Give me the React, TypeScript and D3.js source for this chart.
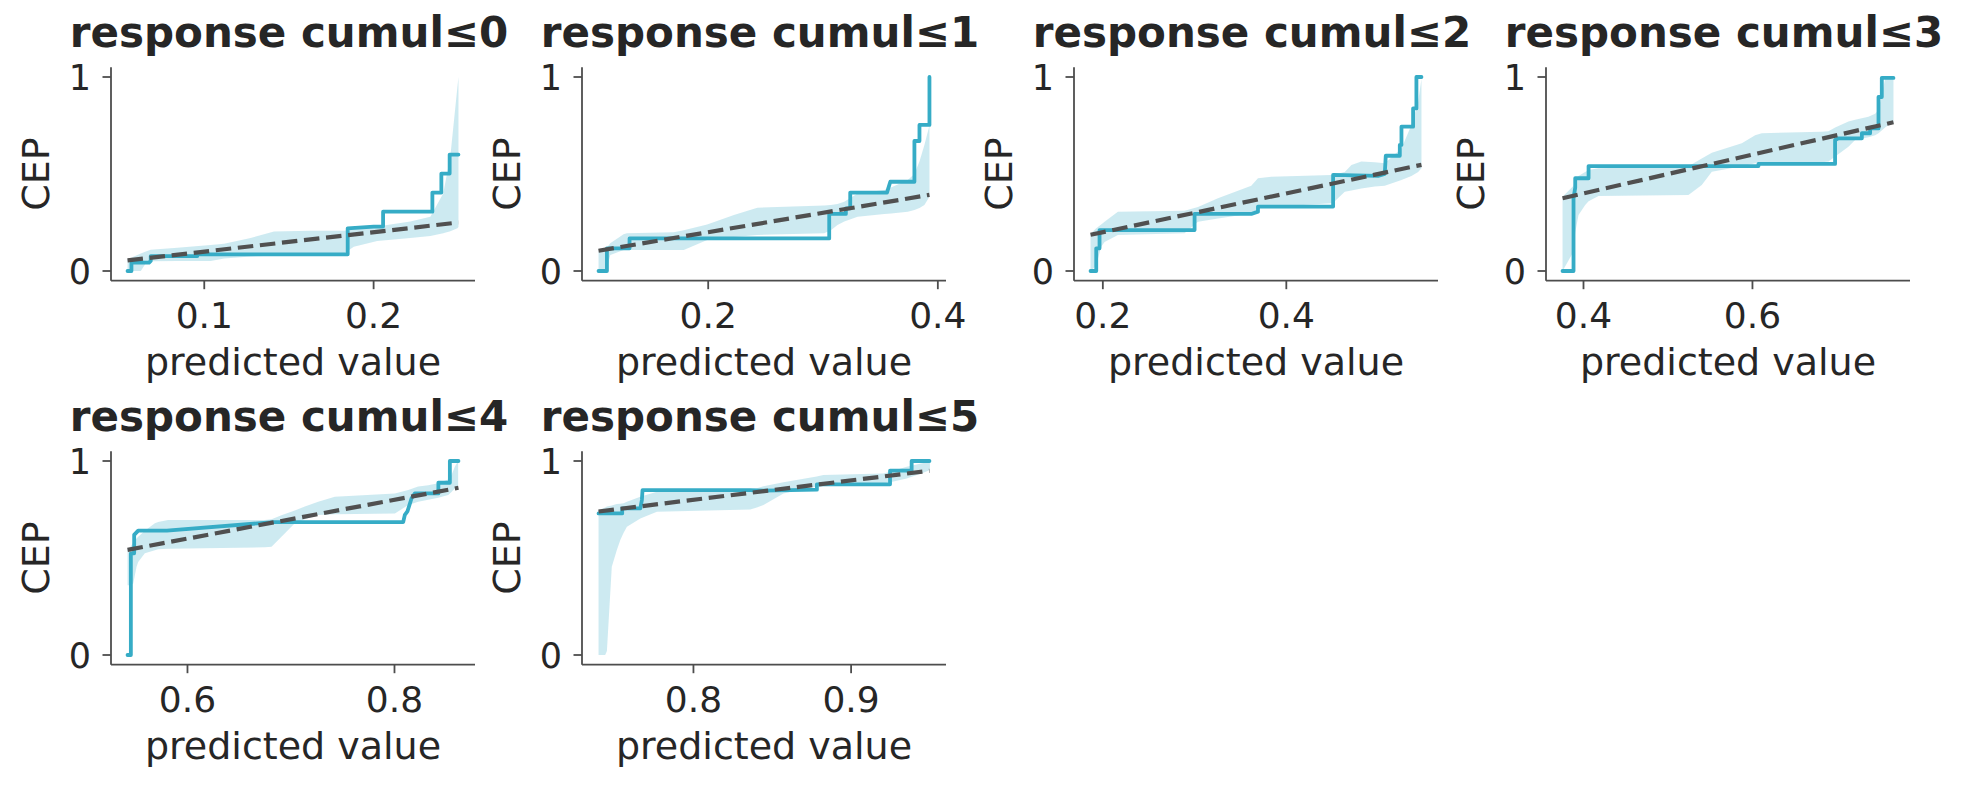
import * as d3 from "d3"

// panel titles and tick values
const titles = [
  "response cumul≤0",
  "response cumul≤1",
  "response cumul≤2",
  "response cumul≤3",
  "response cumul≤4",
  "response cumul≤5",
]
const xTicks = [
  [0.1, 0.2],
  [0.2, 0.4],
  [0.2, 0.4],
  [0.4, 0.6],
  [0.6, 0.8],
  [0.8, 0.9],
]
const yTicks = [0, 1]

// PAV-adjusted CEP lines (predicted value, CEP)
const cep0X = [0.0547, 0.057, 0.057, 0.0674, 0.0684, 0.0684, 0.0959, 0.0959, 0.1847, 0.1847, 0.2001, 0.2056, 0.2056, 0.2347, 0.2347, 0.24, 0.24, 0.2449, 0.2449, 0.2501]
const cep0Y = [0, 0, 0.043, 0.043, 0.052, 0.077, 0.077, 0.086, 0.086, 0.22, 0.229, 0.229, 0.306, 0.306, 0.404, 0.404, 0.502, 0.502, 0.6, 0.6]

const cep1X = [0.1045, 0.1118, 0.1118, 0.1315, 0.1315, 0.3054, 0.3054, 0.3199, 0.3199, 0.3237, 0.3237, 0.3557, 0.3586, 0.3796, 0.3796, 0.384, 0.384, 0.3927, 0.3927]
const cep1Y = [0, 0, 0.117, 0.117, 0.168, 0.168, 0.294, 0.294, 0.323, 0.323, 0.404, 0.404, 0.46, 0.46, 0.67, 0.67, 0.753, 0.753, 1.0]

const cep2X = [0.1866, 0.1928, 0.1928, 0.1964, 0.1964, 0.3, 0.3, 0.3618, 0.3691, 0.3691, 0.451, 0.451, 0.5, 0.5073, 0.5084, 0.5237, 0.5237, 0.5255, 0.5255, 0.5382, 0.5382, 0.5418, 0.5418, 0.5473]
const cep2Y = [0, 0, 0.117, 0.117, 0.211, 0.211, 0.294, 0.294, 0.306, 0.332, 0.332, 0.495, 0.49, 0.5, 0.594, 0.594, 0.65, 0.65, 0.744, 0.744, 0.838, 0.838, 1.0, 1.0]

const cep3X = [0.3752, 0.3882, 0.3882, 0.3902, 0.3902, 0.406, 0.406, 0.6071, 0.6071, 0.6978, 0.6978, 0.7018, 0.7295, 0.7295, 0.7393, 0.7393, 0.7492, 0.7492, 0.7531, 0.7531, 0.7669]
const cep3Y = [0, 0, 0.375, 0.43, 0.478, 0.478, 0.541, 0.541, 0.552, 0.552, 0.675, 0.684, 0.684, 0.71, 0.71, 0.735, 0.735, 0.897, 0.897, 0.995, 0.995]

const cep4X = [0.5421, 0.5453, 0.5453, 0.5485, 0.5485, 0.5524, 0.5801, 0.6831, 0.8084, 0.81, 0.8125, 0.8165, 0.8197, 0.8424, 0.8424, 0.8535, 0.8535, 0.8618]
const cep4Y = [0, 0, 0.524, 0.524, 0.619, 0.641, 0.641, 0.685, 0.685, 0.722, 0.74, 0.808, 0.833, 0.833, 0.888, 0.888, 1.0, 1.0]

const cep5X = [0.7398, 0.7548, 0.7548, 0.7663, 0.7673, 0.7677, 0.836, 0.8444, 0.8783, 0.8783, 0.9247, 0.9247, 0.9384, 0.9384, 0.9497]
const cep5Y = [0.73, 0.73, 0.756, 0.756, 0.799, 0.85, 0.85, 0.847, 0.852, 0.88, 0.88, 0.95, 0.95, 1.0, 1.0]

// credible bands around the CEP
const band0X = [0.0547, 0.0625, 0.0655, 0.0684, 0.0841, 0.1038, 0.1117, 0.1274, 0.1412, 0.1628, 0.1825, 0.1883, 0.2021, 0.2217, 0.2335, 0.2411, 0.2453, 0.2495, 0.2501]
const band0Lo = [0, 0, 0.04, 0.05, 0.052, 0.052, 0.065, 0.075, 0.078, 0.08, 0.09, 0.125, 0.155, 0.17, 0.18, 0.195, 0.205, 0.22, 0.227]
const band0Hi = [0.06, 0.09, 0.1, 0.11, 0.12, 0.134, 0.14, 0.17, 0.203, 0.208, 0.208, 0.215, 0.23, 0.255, 0.28, 0.4, 0.59, 0.95, 1.0]

const band1X = [0.1045, 0.1118, 0.1147, 0.1263, 0.1292, 0.17, 0.1787, 0.1991, 0.2224, 0.2428, 0.301, 0.3068, 0.3126, 0.3185, 0.3301, 0.3534, 0.3592, 0.3738, 0.3796, 0.384, 0.3883, 0.3927]
const band1Lo = [0, 0.014, 0.082, 0.108, 0.108, 0.108, 0.108, 0.16, 0.175, 0.186, 0.194, 0.21, 0.237, 0.255, 0.28, 0.294, 0.297, 0.305, 0.314, 0.325, 0.34, 0.383]
const band1Hi = [0.1, 0.12, 0.143, 0.19, 0.194, 0.2, 0.21, 0.24, 0.289, 0.326, 0.338, 0.34, 0.345, 0.357, 0.4, 0.418, 0.43, 0.469, 0.5, 0.564, 0.65, 0.75]

const band2X = [0.1866, 0.1873, 0.1928, 0.1982, 0.2019, 0.2164, 0.2891, 0.3037, 0.3255, 0.3618, 0.3691, 0.3837, 0.4491, 0.4528, 0.4637, 0.471, 0.4818, 0.4964, 0.5073, 0.5255, 0.5364, 0.5437, 0.5473]
const band2Lo = [0, 0, 0.03, 0.125, 0.15, 0.186, 0.194, 0.254, 0.27, 0.297, 0.323, 0.33, 0.349, 0.36, 0.409, 0.415, 0.425, 0.435, 0.44, 0.469, 0.49, 0.51, 0.529]
const band2Hi = [0.19, 0.194, 0.22, 0.24, 0.254, 0.306, 0.311, 0.33, 0.375, 0.44, 0.478, 0.486, 0.495, 0.497, 0.51, 0.546, 0.564, 0.56, 0.555, 0.632, 0.753, 0.873, 0.99]

const band3X = [0.3752, 0.3882, 0.3902, 0.3941, 0.402, 0.406, 0.4178, 0.5242, 0.54, 0.5519, 0.5874, 0.6032, 0.6111, 0.6821, 0.69, 0.6979, 0.7136, 0.7215, 0.7373, 0.7452, 0.7492, 0.757, 0.761, 0.7669]
const band3Lo = [0, 0.1, 0.2, 0.289, 0.34, 0.36, 0.387, 0.392, 0.443, 0.512, 0.54, 0.555, 0.556, 0.56, 0.565, 0.59, 0.64, 0.675, 0.69, 0.7, 0.71, 0.74, 0.753, 0.76]
const band3Hi = [0.383, 0.44, 0.469, 0.49, 0.51, 0.521, 0.53, 0.54, 0.58, 0.61, 0.658, 0.7, 0.71, 0.718, 0.72, 0.74, 0.77, 0.78, 0.795, 0.81, 0.83, 0.99, 0.995, 1.0]

const band4X = [0.5421, 0.5453, 0.5476, 0.5508, 0.5524, 0.5588, 0.5685, 0.5717, 0.5813, 0.6747, 0.6812, 0.6908, 0.7037, 0.7134, 0.7263, 0.7424, 0.8004, 0.8133, 0.8229, 0.8326, 0.8423, 0.8519, 0.8551, 0.8583, 0.8615]
const band4Lo = [0.36, 0.36, 0.369, 0.455, 0.48, 0.524, 0.54, 0.545, 0.548, 0.555, 0.558, 0.61, 0.679, 0.7, 0.722, 0.725, 0.73, 0.773, 0.79, 0.8, 0.81, 0.825, 0.84, 0.86, 0.87]
const band4Hi = [0.541, 0.56, 0.58, 0.6, 0.61, 0.64, 0.679, 0.685, 0.696, 0.696, 0.7, 0.72, 0.745, 0.765, 0.79, 0.816, 0.833, 0.85, 0.868, 0.875, 0.885, 0.905, 0.928, 0.97, 1.0]

const band5X = [0.7398, 0.744, 0.7451, 0.7482, 0.7514, 0.7536, 0.7557, 0.7578, 0.7663, 0.7768, 0.836, 0.8402, 0.8444, 0.8571, 0.8782, 0.8824, 0.9205, 0.9247, 0.9353, 0.9458, 0.95]
const band5Lo = [0, 0, 0.02, 0.455, 0.541, 0.593, 0.63, 0.661, 0.704, 0.739, 0.75, 0.76, 0.773, 0.833, 0.868, 0.87, 0.885, 0.89, 0.91, 0.94, 0.953]
const band5Hi = [0.747, 0.76, 0.765, 0.77, 0.778, 0.78, 0.782, 0.79, 0.816, 0.842, 0.855, 0.859, 0.87, 0.89, 0.92, 0.928, 0.936, 0.945, 0.97, 0.99, 1.0]

const cepX = [cep0X, cep1X, cep2X, cep3X, cep4X, cep5X]
const cepY = [cep0Y, cep1Y, cep2Y, cep3Y, cep4Y, cep5Y]
const bandX = [band0X, band1X, band2X, band3X, band4X, band5X]
const bandLo = [band0Lo, band1Lo, band2Lo, band3Lo, band4Lo, band5Lo]
const bandHi = [band0Hi, band1Hi, band2Hi, band3Hi, band4Hi, band5Hi]

// layout
const W = 1972
const H = 790
const plotW = 364
const plotH = 213.4
const lefts = [111, 582, 1074, 1546, 111, 582]
const tops = [67.3, 67.3, 67.3, 67.3, 451.3, 451.3]

const font = "DejaVu Sans"
const textColor = "#262626"
const spineColor = "#4d4d4d"
const lineColor = "#36acc6"
const refColor = "#505050"

const Panel = ({ i }: { i: number }) => {
  const left = lefts[i]
  const top = tops[i]
  const xs = cepX[i]
  const [x0, x1] = d3.extent(xs) as [number, number]
  const pad = (x1 - x0) * 0.05

  const x = d3.scaleLinear().domain([x0 - pad, x1 + pad]).range([left, left + plotW])
  const y = d3.scaleLinear().domain([-0.05, 1.05]).range([top + plotH, top])
  const bottom = top + plotH

  const band = bandX[i].map((v, k) => ({ x: v, lo: bandLo[i][k], hi: bandHi[i][k] }))
  const area = d3
    .area<{ x: number; lo: number; hi: number }>()
    .x(d => x(d.x))
    .y0(d => y(d.lo))
    .y1(d => y(d.hi))

  const pts: [number, number][] = xs.map((v, k) => [x(v), y(cepY[i][k])])
  const line = d3.line()

  const fmt = d3.format(".1f")

  return (
    <g>
      <path d={area(band) || ""} fill={lineColor} fillOpacity={0.25} stroke="none" />
      <path
        d={line(pts) || ""}
        fill="none"
        stroke={lineColor}
        strokeWidth={3.8}
        strokeLinejoin="round"
        strokeLinecap="round"
      />
      <line
        x1={x(x0)}
        y1={y(x0)}
        x2={x(x1)}
        y2={y(x1)}
        stroke={refColor}
        strokeWidth={4.2}
        strokeDasharray="15.5 6.7"
      />

      {/* spines */}
      <line x1={left} x2={left} y1={top} y2={bottom} stroke={spineColor} strokeWidth={1.8} />
      <line x1={left} x2={left + plotW} y1={bottom} y2={bottom} stroke={spineColor} strokeWidth={1.8} />

      {/* y ticks */}
      {yTicks.map(t => (
        <g key={"y" + t}>
          <line x1={left - 8.5} x2={left} y1={y(t)} y2={y(t)} stroke={spineColor} strokeWidth={1.8} />
          <text
            x={left - 20}
            y={y(t)}
            dy="0.36em"
            textAnchor="end"
            fontFamily={font}
            fontSize={35}
            fill={textColor}
          >
            {t}
          </text>
        </g>
      ))}

      {/* x ticks */}
      {xTicks[i].map(t => (
        <g key={"x" + t}>
          <line x1={x(t)} x2={x(t)} y1={bottom} y2={bottom + 8.5} stroke={spineColor} strokeWidth={1.8} />
          <text
            x={x(t)}
            y={bottom + 47}
            textAnchor="middle"
            fontFamily={font}
            fontSize={36}
            fill={textColor}
          >
            {fmt(t)}
          </text>
        </g>
      ))}

      <text
        x={left + plotW / 2}
        y={bottom + 94}
        textAnchor="middle"
        fontFamily={font}
        fontSize={38}
        fill={textColor}
      >
        predicted value
      </text>
      <text
        transform={`translate(${left - 62},${top + plotH / 2}) rotate(-90)`}
        textAnchor="middle"
        fontFamily={font}
        fontSize={38}
        fill={textColor}
      >
        CEP
      </text>
      <text
        x={left + plotW / 2 - 4}
        y={top - 20.5}
        textAnchor="middle"
        fontFamily={font}
        fontSize={42}
        fontWeight="bold"
        fill={textColor}
      >
        {titles[i]}
      </text>
    </g>
  )
}

export default function App() {
  return (
    <svg
      width={W}
      height={H}
      style={{ position: "absolute", left: 0, top: 0, background: "#fff" }}
    >
      {titles.map((_, i) => (
        <Panel key={i} i={i} />
      ))}
    </svg>
  )
}
